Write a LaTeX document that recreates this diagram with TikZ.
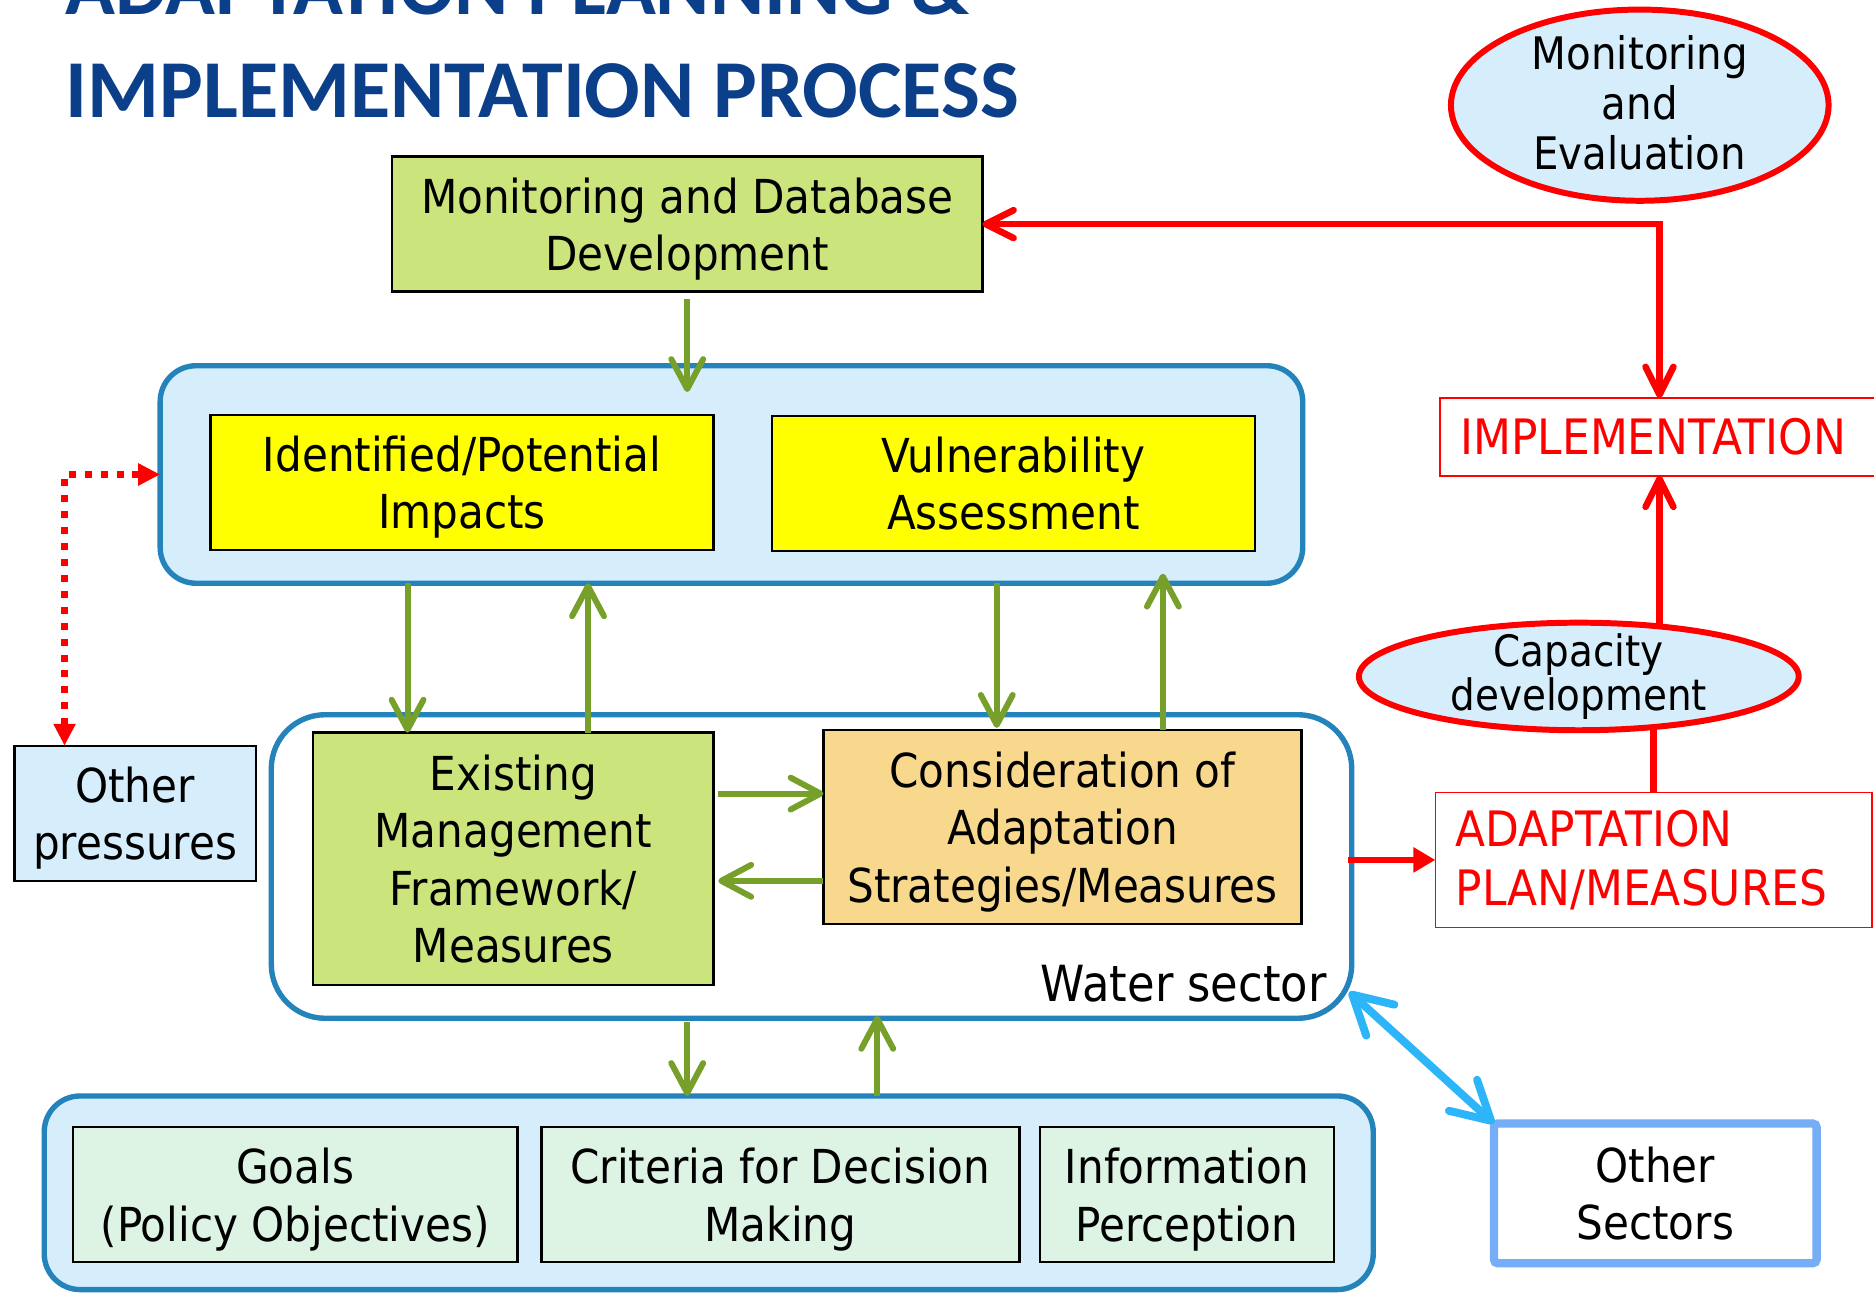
\documentclass[tikz,border=0pt]{standalone}
\usepackage{fontspec}
\setmainfont{DejaVu Sans}[FakeStretch=0.9]
\newfontfamily\titlefont{Carlito}
\usetikzlibrary{arrows.meta,shapes.geometric,calc,backgrounds}
\definecolor{lblue}{HTML}{D6EEFC}
\definecolor{cblue}{HTML}{2583BC}
\definecolor{bgreen}{HTML}{CCE47C}
\definecolor{byellow}{HTML}{FFFF00}
\definecolor{borange}{HTML}{F8D88D}
\definecolor{bpale}{HTML}{DDF4E4}
\definecolor{agreen}{HTML}{77A02A}
\definecolor{ared}{HTML}{FF0000}
\definecolor{ablue}{HTML}{2CB5F8}
\definecolor{osblue}{HTML}{75AEF6}
\definecolor{ttl}{HTML}{0B3F8A}
\begin{document}
\begin{tikzpicture}[x=0.6pt,y=-0.6pt,
  every node/.style={inner sep=0pt, outer sep=0pt},
  txt/.style={font=\fontsize{23.5}{28.8}\selectfont, align=center},
  blk/.style={txt, rectangle, draw=black, line width=1.2pt, text depth=0pt},
  cont/.style={rectangle, draw=cblue, fill=lblue, line width=2.7pt},
  redbox/.style={txt, font=\fontsize{24.5}{29.4}\selectfont, rectangle, draw=ared, line width=0.9pt, fill=white, text=ared, align=left, inner xsep=10.2pt},
  ell/.style={ellipse, draw=ared, fill=lblue, line width=3pt},
  garrow/.style={draw=agreen, line width=3pt, -{Straight Barb[length=15pt,width=16pt,round]}},
  rdbl/.style={draw=ared, line width=3.3pt, {Straight Barb[length=14pt,width=14pt,round]}-{Straight Barb[length=14pt,width=14pt,round]}},
  rsingle/.style={draw=ared, line width=3.3pt, -{Straight Barb[length=14pt,width=14pt,round]}},
  rline/.style={draw=ared, line width=3.3pt},
  rtri/.style={draw=ared, line width=3.3pt, -{Triangle[length=11pt,width=12pt]}},
  dotarr/.style={draw=ared, line width=3.5pt, dash pattern=on 3.5pt off 4.5pt, {Triangle[length=11pt,width=10.5pt]}-{Triangle[length=11pt,width=10.5pt]}},
  bdbl/.style={draw=ablue, line width=4pt, {Straight Barb[length=19pt,width=21pt,round]}-{Straight Barb[length=19pt,width=21pt,round]}},
  ttlst/.style={font=\titlefont\bfseries\fontsize{41.3}{48}\selectfont, text=ttl}
]
\useasboundingbox (0,0) rectangle (1568,1082);
\clip (0,0) rectangle (1568,1082);

% title
\node[ttlst, anchor=base west] (t1) at (55,12) {ADAPTATION PLANNING \&};
\node[ttlst, anchor=base west] (t2) at (55,98) {IMPLEMENTATION PROCESS};

% containers
\node[cont, rounded corners=18pt, minimum width=573.6pt, minimum height=109.2pt] (top) at (612,397) {};
\node[cont, fill=white, rounded corners=27pt, minimum width=542.4pt, minimum height=152.4pt] (water) at (679,725) {};
\node[cont, rounded corners=18pt, minimum width=667.2pt, minimum height=97.2pt] (bot) at (593,998) {};

% boxes
\node[blk, fill=bgreen, minimum width=296.4pt, minimum height=67.8pt] (mdd) at (575,187.5) {Monitoring and Database\\Development};
\node[blk, fill=byellow, minimum width=252.6pt, minimum height=67.8pt] (imp) at (386.5,403.5) {Identified/Potential\\Impacts};
\node[blk, fill=byellow, minimum width=242.4pt, minimum height=67.8pt] (vul) at (848,404.5) {Vulnerability\\Assessment};
\node[blk, fill=bgreen, minimum width=201pt, minimum height=126.6pt] (emf) at (429.5,718.5) {Existing\\Management\\Framework/\\Measures};
\node[blk, fill=borange, minimum width=240pt, minimum height=97.2pt] (cas) at (889,692) {Consideration of\\Adaptation\\Strategies/Measures};
\node[txt, font=\fontsize{25}{30}\selectfont, anchor=base east] (ws) at (1110,838) {Water sector};
\node[blk, fill=bpale, minimum width=223.2pt, minimum height=67.8pt] (goals) at (247,999.5) {Goals\\(Policy Objectives)};
\node[blk, fill=bpale, minimum width=240pt, minimum height=67.8pt] (crit) at (653,999.5) {Criteria for Decision\\Making};
\node[blk, fill=bpale, minimum width=147.6pt, minimum height=67.8pt] (info) at (993,999.5) {Information\\Perception};
\node[blk, fill=lblue, minimum width=121.2pt, minimum height=67.8pt] (op) at (113,680.5) {Other\\pressures};

% right side
\node[ell, minimum width=189.6pt, minimum height=96pt,
  label={[txt, font=\fontsize{22.5}{25.2}\selectfont, yshift=1.2pt]center:Monitoring\\and\\Evaluation}] (me) at (1372,88) {};
\node[redbox, text width=199.8pt, minimum height=39pt] (impl) at (1388.5,365.5) {IMPLEMENTATION};
\node[ell, minimum width=220.8pt, minimum height=54pt,
  label={[txt, font=\fontsize{21.7}{22.2}\selectfont]center:Capacity\\development}] (cap) at (1321,566) {};
\node[redbox, text width=198.6pt, minimum height=67.8pt] (adp) at (1383.5,719.5) {ADAPTATION\\PLAN/MEASURES};
\node[txt, rectangle, draw=osblue, line width=4.2pt, rounded corners=2pt, fill=white, minimum width=162pt, minimum height=70.2pt] (os) at (1385,998.5) {Other\\Sectors};

% red connectors
\begin{scope}[on background layer]
\draw[rsingle] (cap.center -| impl.south) -- (impl.south);
\draw[rline] (adp.north) -- (adp.north |- cap.center);
\end{scope}
\draw[rdbl] (mdd.east) -- (mdd.east -| impl.north) -- (impl.north);
\draw[rtri] ($(adp.west -| water.east)+(-3,0)$) -- (adp.west);
\coordinate (dp) at ($(op.north west)+(42,0)$);
\draw[dotarr] (dp) -- (dp |- top.west) -- (top.west);

% blue connector
\draw[bdbl] ($(water.south east)+(-2,-22)$) -- (os.north west);

% green connectors
\draw[garrow] ($(mdd.south)+(0,6)$) -- ($(mdd.south |- top.north)+(0,22)$);
\coordinate (g2) at ($(emf.north west)+(79,0)$);
\draw[garrow] (g2 |- top.south) -- (g2);
\coordinate (g3) at ($(emf.north west)+(230,0)$);
\draw[garrow] (g3) -- (g3 |- top.south);
\coordinate (g4) at ($(cas.north west)+(145,0)$);
\draw[garrow] (g4 |- top.south) -- ($(g4)+(0,-2)$);
\coordinate (g5) at ($(cas.north west)+(284,0)$);
\draw[garrow] (g5) -- ($(g5 |- top.south)+(0,-8)$);
\coordinate (g6) at ($(emf.north east)+(4,51)$);
\draw[garrow] (g6) -- (g6 -| cas.west);
\coordinate (g7) at ($(cas.north west)+(0,126)$);
\draw[garrow] (g7) -- ($(g7 -| emf.east)+(4,0)$);
\coordinate (g8) at ($(water.south)+(-104,0)$);
\draw[garrow] ($(g8)+(0,3)$) -- (g8 |- bot.north);
\coordinate (g9) at ($(water.south)+(55,0)$);
\draw[garrow] (g9 |- bot.north) -- ($(g9)+(0,-2)$);
\end{tikzpicture}
\end{document}
